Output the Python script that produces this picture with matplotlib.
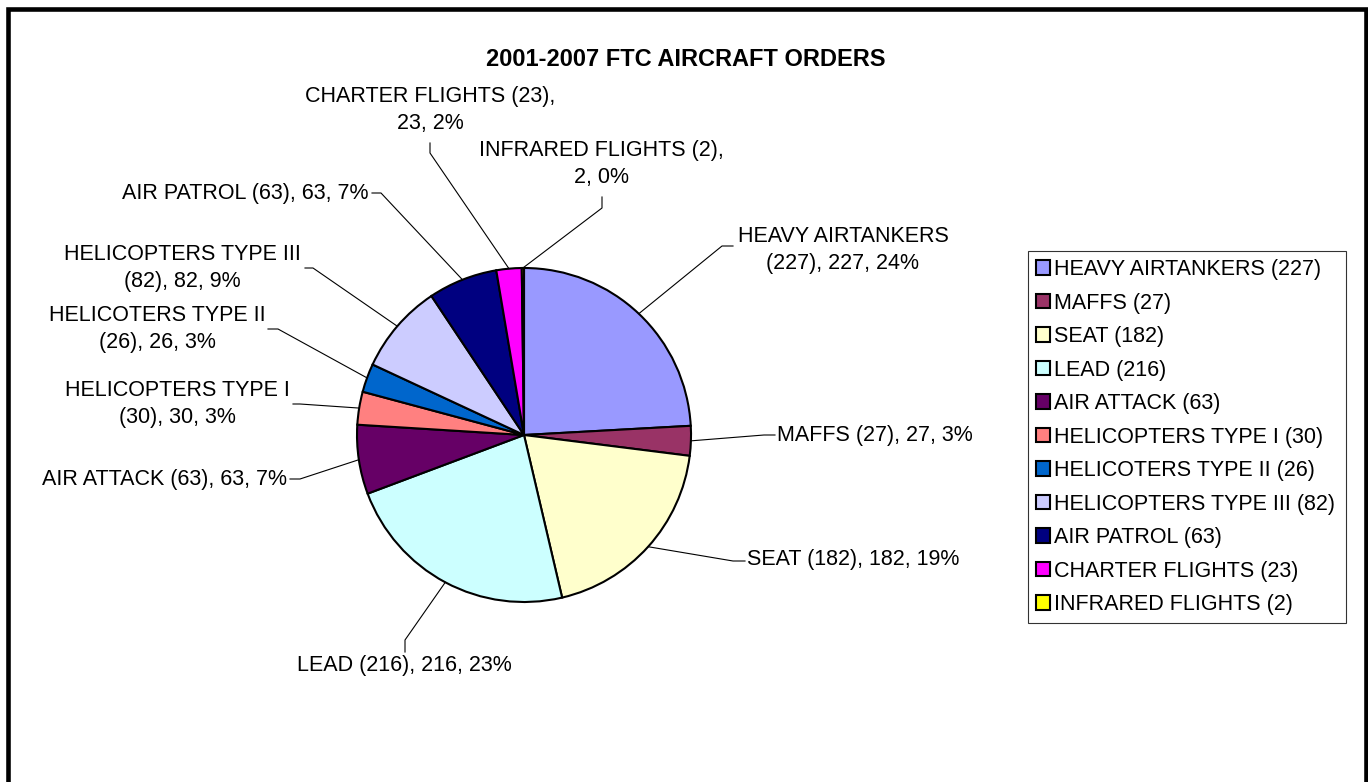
import numpy as np
import matplotlib.pyplot as plt

plt.rcParams['font.family'] = ['Liberation Sans', 'DejaVu Sans']

# data
names = ['HEAVY AIRTANKERS', 'MAFFS', 'SEAT', 'LEAD', 'AIR ATTACK', 'HELICOPTERS TYPE I',
         'HELICOTERS TYPE II', 'HELICOPTERS TYPE III', 'AIR PATROL', 'CHARTER FLIGHTS',
         'INFRARED FLIGHTS']
orders = [227, 27, 182, 216, 63, 30, 26, 82, 63, 23, 2]
colors = ['#9999FF', '#993366', '#FFFFCC', '#CCFFFF', '#660066', '#FF8080',
          '#0066CC', '#CCCCFF', '#000080', '#FF00FF', '#FFFF00']
title = '2001-2007 FTC AIRCRAFT ORDERS'

# label layout in screen pixels (y goes down)
label_pos = [(843, 250), (777, 435), (747, 560), (404, 666), (287, 479), (177, 404),
             (157, 329), (182, 268), (369, 193), (430, 110), (601, 164)]
label_ha = ['center', 'left', 'left', 'center', 'right', 'center',
            'center', 'center', 'right', 'center', 'center']
wrap = [1, 0, 0, 0, 0, 1, 1, 1, 0, 2, 2]  # 0 one line, 1 break after name, 2 break after "(n),"
leader = [[(733, 246), (722, 246)], [(775, 435), (764, 435)], [(745, 561), (733, 561)],
          [(405, 652), (405, 640)], [(290, 479), (300, 479)], [(293, 404), (300, 404)],
          [(268, 329), (278, 329)], [(305, 268), (313, 268)], [(372, 193), (381, 193)],
          [(430, 143), (430, 153)], [(602, 197), (602, 208)]]

W, H = 1368, 782
CX, CY, R = 524, 435, 167
FS = 15.5


def Y(y):
    return H - y


def make_label(name, v, pct, mode):
    if mode == 1:
        return f'{name}\n({v}), {v}, {pct}%'
    if mode == 2:
        return f'{name} ({v}),\n{v}, {pct}%'
    return f'{name} ({v}), {v}, {pct}%'


fig = plt.figure(figsize=(W / 100, H / 100), dpi=100, facecolor='white')
ax = fig.add_axes([0, 0, 1, 1])

wedges, _ = ax.pie(orders, colors=colors, startangle=90, counterclock=False,
                   center=(CX, Y(CY)), radius=R,
                   wedgeprops=dict(edgecolor='black', linewidth=1.5))

total = sum(orders)
for i, w in enumerate(wedges):
    v = orders[i]
    pct = int(round(v / total * 100))
    mid = np.deg2rad((w.theta1 + w.theta2) / 2)
    px, py = CX + R * np.cos(mid), Y(CY) + R * np.sin(mid)
    (x1, y1), (x2, y2) = leader[i]
    ax.plot([x1, x2, px], [Y(y1), Y(y2), py], color='black', lw=0.8, zorder=1)
    tx, ty = label_pos[i]
    ax.text(tx, Y(ty), make_label(names[i], v, pct, wrap[i]), fontsize=FS,
            ha=label_ha[i], va='center', multialignment='center', linespacing=1.42)

ax.text(686, Y(60), title, fontsize=17, fontweight='bold', ha='center', va='center')

leg = ax.legend(wedges, [f'{n} ({v})' for n, v in zip(names, orders)],
                loc='upper left', bbox_to_anchor=(1028, Y(620), 318, 369),
                bbox_transform=ax.transData, mode='expand', borderaxespad=0,
                fontsize=FS, frameon=True, fancybox=False, edgecolor='black',
                borderpad=0.38, labelspacing=0.58, handlelength=0.64, handleheight=0.64,
                handletextpad=0.2)
leg.get_frame().set_linewidth(0.8)

# outer chart border (bottom edge is cut off in the original)
ax.plot([7.5, 7.5, 1366, 1366], [0, Y(9), Y(9), 0], color='black', lw=3.3,
        solid_joinstyle='miter')

ax.set_xlim(0, W)
ax.set_ylim(0, H)
ax.set_aspect('equal')
ax.axis('off')

fig.savefig('out.png', dpi=100)
